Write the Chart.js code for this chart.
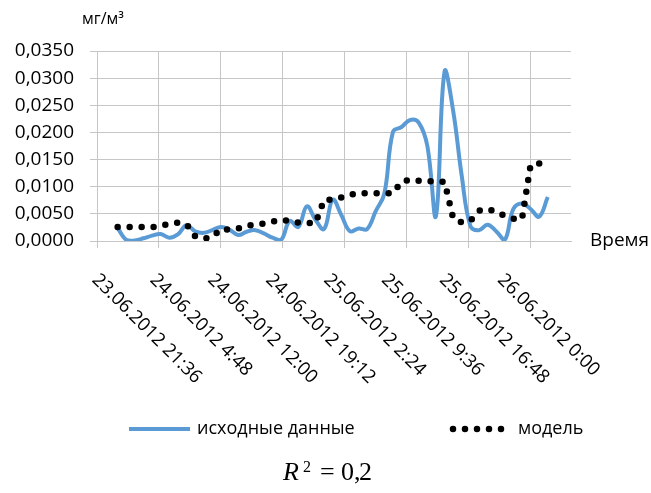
<!DOCTYPE html>
<html lang="ru">
<head>
  <meta charset="UTF-8" />
  <title>исходные данные и модель</title>
  <script src="https://cdn.jsdelivr.net/npm/chart.js"></script>
  <style>
    html, body { margin: 0; padding: 0; background: #fff; }
    #wrap { width: 651px; height: 493px; }
  </style>
</head>
<body>
  <div id="wrap"><canvas id="chart"></canvas></div>

  <script>
    // hours counted from 24.06.2012 0:00
    const hours = [
      0, 1, 2, 3, 4, 5, 6, 7, 8, 9,
      10, 11, 12, 13, 14, 15, 16, 17, 18, 19,
      20, 21, 22, 23, 24, 25, 26, 27, 28, 29,
      30, 31, 32, 33, 34, 35, 36, 37, 38, 39,
      40, 41, 42, 43, 44, 45, 46, 47, 48, 49,
      50
    ];

    // исходные данные, мг/м3
    const measured = [
      0.0024, 0.0002, 0.0001, 0.0005, 0.0010, 0.0013, 0.0006, 0.0012, 0.0029, 0.0018,
      0.0015, 0.0020, 0.0026, 0.0021, 0.0011, 0.0017, 0.0020, 0.0014, 0.0006, 0.0002,
      0.0037, 0.0026, 0.0064, 0.0039, 0.0022, 0.0076, 0.0048, 0.0018, 0.0023, 0.0022,
      0.0055, 0.0087, 0.0201, 0.0210, 0.0223, 0.0218, 0.0175, 0.0046, 0.0312, 0.0240,
      0.0120, 0.0028, 0.0020, 0.0030, 0.0018, 0.0002, 0.0059, 0.0069, 0.0059, 0.0045,
      0.0081
    ];

    // модель, мг/м3
    const model = [
      0.0026, 0.0026, 0.0026, 0.0026, 0.0025, 0.0029, 0.0031, 0.0034, 0.0031, 0.0009,
      0.0004, 0.0007, 0.0022, 0.0021, 0.0023, 0.0028, 0.0030, 0.0032, 0.0036, 0.0039,
      0.0037, 0.0034, 0.0033, 0.0033, 0.0076, 0.0076, 0.0080, 0.0085, 0.0088, 0.0088,
      0.0088, 0.0088, 0.0088, 0.0109, 0.0113, 0.0111, 0.0111, 0.0109, 0.0109, 0.0042,
      0.0034, 0.0037, 0.0056, 0.0059, 0.0054, 0.0046, 0.0041, 0.0040, 0.0140, 0.0143,
      0.0140
    ];

    // x ticks every 7.2 h, starting at 23.06.2012 21:36
    const xTickHours = [-2.4, 4.8, 12, 19.2, 26.4, 33.6, 40.8, 48];
    const xTickLabels = [
      '23.06.2012 21:36', '24.06.2012 4:48', '24.06.2012 12:00', '24.06.2012 19:12',
      '25.06.2012 2:24', '25.06.2012 9:36', '25.06.2012 16:48', '26.06.2012 0:00'
    ];

    const BLUE = '#5b9bd5';
    const GRID = '#c6c6c6';
    const FONT = '"Open Sans", "Noto Sans", sans-serif';
    const SERIF = '"Liberation Serif", serif';

    // text around the plot: rotated dates, axis titles, legend, R^2
    const annotations = {
      id: 'annotations',
      afterDraw(chart) {
        const { ctx, chartArea, scales: { x } } = chart;
        const ds = chart.data.datasets;
        ctx.save();
        ctx.fillStyle = '#000';
        ctx.textAlign = 'left';
        ctx.textBaseline = 'middle';

        ctx.font = '18.5px ' + FONT;
        x.ticks.forEach((t, i) => {
          const px = chartArea.left - 2 + (x.getPixelForValue(t.value) - chartArea.left) * 0.935;
          ctx.save();
          ctx.translate(px, chartArea.bottom + 36);
          ctx.rotate(Math.PI / 4);
          ctx.fillText(xTickLabels[i], 0, 0);
          ctx.restore();
        });

        ctx.font = '16px ' + FONT;
        ctx.fillText('мг/м³', 82, 19);
        ctx.font = '19px ' + FONT;
        ctx.fillText('Время', 590, chartArea.bottom);

        // legend
        const ly = 429;
        ctx.strokeStyle = ds[0].borderColor;
        ctx.lineWidth = 4;
        ctx.beginPath(); ctx.moveTo(129, ly); ctx.lineTo(190, ly); ctx.stroke();
        ctx.font = '18px ' + FONT;
        ctx.fillText(ds[0].label, 197, ly);

        ctx.strokeStyle = ds[1].borderColor;
        ctx.lineWidth = ds[1].borderWidth;
        ctx.lineCap = 'round';
        ctx.setLineDash([0, 12]);
        ctx.beginPath(); ctx.moveTo(453, ly); ctx.lineTo(502, ly); ctx.stroke();
        ctx.setLineDash([]);
        ctx.fillText(ds[1].label, 518, ly);

        // R^2 = 0,2
        ctx.textBaseline = 'alphabetic';
        ctx.font = 'italic 26px ' + SERIF;
        ctx.fillText('R', 283, 480);
        ctx.font = '16px ' + SERIF;
        ctx.fillText('2', 303, 472);
        ctx.font = '26px ' + SERIF;
        ctx.fillText('=', 320, 480);
        ctx.fillText('0,', 341, 480);
        ctx.fillText('2', 359, 480);

        ctx.restore();
      }
    };

    new Chart(document.getElementById('chart'), {
      type: 'line',
      data: {
        datasets: [
          {
            label: 'исходные данные',
            data: hours.map((h, i) => ({ x: h, y: measured[i] })),
            borderColor: BLUE,
            borderWidth: 4,
            tension: 0.4,
            pointRadius: 0,
            order: 1
          },
          {
            label: 'модель',
            data: hours.map((h, i) => ({ x: h, y: model[i] })),
            borderColor: '#000',
            borderWidth: 6.5,
            borderDash: [0, 12],
            borderCapStyle: 'round',
            borderJoinStyle: 'round',
            tension: 0,
            pointRadius: 0,
            order: 0
          }
        ]
      },
      options: {
        responsive: true,
        maintainAspectRatio: false,
        animation: false,
        layout: { padding: { top: 51, right: 80, bottom: 245, left: 0 } },
        plugins: {
          legend: { display: false },
          tooltip: { enabled: false }
        },
        scales: {
          x: {
            type: 'linear',
            min: -2.4,
            max: 52.7,
            afterBuildTicks: s => { s.ticks = xTickHours.map(v => ({ value: v })); },
            ticks: { display: false },
            grid: { color: GRID, tickLength: 7 },
            border: { color: GRID }
          },
          y: {
            min: 0,
            max: 0.035,
            afterFit: s => { s.width = 97; },
            ticks: {
              stepSize: 0.005,
              padding: 16,
              color: '#000',
              font: { family: FONT, size: 19 },
              callback: v => v.toFixed(4).replace('.', ',')
            },
            grid: { color: GRID, tickLength: 7 },
            border: { color: GRID }
          }
        }
      },
      plugins: [annotations]
    });
  </script>
</body>
</html>
